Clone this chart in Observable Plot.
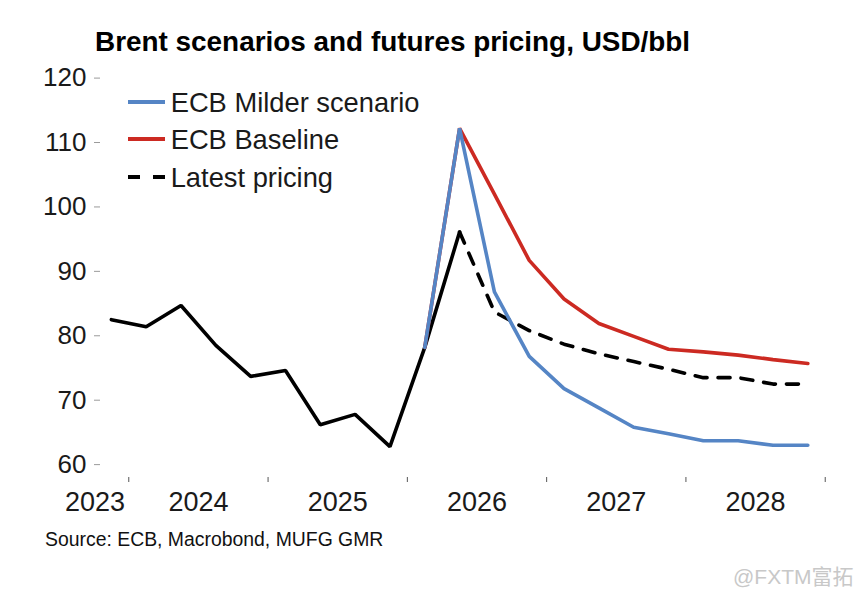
<!DOCTYPE html>
<html>
<head>
<meta charset="utf-8">
<script src="https://cdn.jsdelivr.net/npm/d3@7"></script>
<script src="https://cdn.jsdelivr.net/npm/@observablehq/plot@0.6"></script>
<style>
  html, body { margin: 0; padding: 0; background: #fff; }
  #wrap { position: relative; width: 864px; height: 616px; overflow: hidden;
          font-family: Arial, "Liberation Sans", Helvetica, sans-serif; color: #1a1a1a; }
  #title { position: absolute; left: 95px; top: 28px; font-size: 27.9px; line-height: 27px;
           font-weight: bold; color: #000; white-space: nowrap; }
  #chart { position: absolute; left: 0; top: 62px; }
  .leg { position: absolute; left: 128px; height: 27px; width: 400px; }
  .leg svg { position: absolute; left: 0; top: 0; }
  .leg span { position: absolute; left: 42.7px; top: 0; font-size: 27.3px; line-height: 27px; white-space: nowrap; }
  #source { position: absolute; left: 45px; top: 530px; font-size: 19.4px; line-height: 19px; color: #111; white-space: nowrap; }
  #mark { position: absolute; left: 733px; top: 567px; font-size: 21px; line-height: 20px; color: #c8c8c8;
          font-family: Arial, "Liberation Sans", "Noto Sans CJK SC", sans-serif; white-space: nowrap; }
</style>
</head>
<body>
<div id="wrap">
  <div id="title">Brent scenarios and futures pricing, USD/bbl</div>
  <div id="chart"></div>
  <div id="legend"></div>
  <div id="source">Source: ECB, Macrobond, MUFG GMR</div>
  <div id="mark">@FXTM富拓</div>
</div>
<script>
// ---- data ----
const quarters = ["2023Q4",
  "2024Q1","2024Q2","2024Q3","2024Q4",
  "2025Q1","2025Q2","2025Q3","2025Q4",
  "2026Q1","2026Q2","2026Q3","2026Q4",
  "2027Q1","2027Q2","2027Q3","2027Q4",
  "2028Q1","2028Q2","2028Q3","2028Q4"];
// history (black solid), 2023Q4 .. 2026Q2
const history = [82.5, 81.4, 84.7, 78.5, 73.7, 74.6, 66.2, 67.8, 62.8, 78.2, 96.1];
// ECB Milder scenario, 2026Q1 .. 2028Q4
const milder = [78.2, 112.2, 86.8, 76.8, 71.8, 68.8, 65.8, 64.8, 63.7, 63.7, 63.0, 63.0];
// ECB Baseline, 2026Q1 .. 2028Q4
const baseline = [78.2, 112.2, 102.0, 91.7, 85.7, 81.9, 79.9, 77.9, 77.5, 77.0, 76.3, 75.7];
// Latest pricing (dashed), 2026Q2 .. 2028Q4
const pricing = [96.1, 83.7, 80.8, 78.7, 77.2, 76.0, 74.8, 73.5, 73.5, 72.5, 72.5];

const yTicks = [60, 70, 80, 90, 100, 110, 120];
const yearTicks = [2024, 2025, 2026, 2027, 2028, 2029];
const yearLabels = ["2023", "2024", "2025", "2026", "2027", "2028"];

const legendItems = [
  {name: "ECB Milder scenario", color: "#5585c5", dash: null},
  {name: "ECB Baseline", color: "#cc2a22", dash: null},
  {name: "Latest pricing", color: "#000000", dash: "12,13"}
];

// ---- build ----
const xOf = q => +q.slice(0, 4) + (+q[5] - 0.5) / 4;
const series = (vals, start) => vals.map((v, i) => ({x: xOf(quarters[start + i]), v}));

const histData = series(history, 0);
const milderData = series(milder, 9);
const baseData = series(baseline, 9);
const priceData = series(pricing, 10);

// label centres: first year sits in its visible part, later years mid-year
const labelPos = yearLabels.map((y, i) => i === 0 ? +y + 0.758 : +y + 0.5);

const chart = Plot.plot({
  width: 864,
  height: 465,
  marginTop: 15.6,
  marginLeft: 100,
  marginRight: 35.1,
  marginBottom: 50,
  style: {fontFamily: 'Arial, "Liberation Sans", Helvetica, sans-serif', background: "#fff", color: "#1a1a1a"},
  x: {domain: [2023.797, 2029.03], label: null},
  y: {domain: [58, 120], label: null},
  marks: [
    Plot.axisY({ticks: yTicks, tickSize: 6, tickPadding: 8, stroke: "#9a9a9a", fill: "#1a1a1a",
                fontSize: 26, tickFormat: d => String(d), label: null}),
    Plot.axisX({ticks: yearTicks, tickSize: 5, stroke: "#555", tickFormat: () => "", label: null}),
    Plot.axisX({ticks: labelPos, tickSize: 0, tickPadding: 14, fill: "#1a1a1a", fontSize: 27,
                tickFormat: d => String(Math.floor(d)), label: null}),
    Plot.line(histData, {x: "x", y: "v", stroke: "#000", strokeWidth: 3.6, strokeLinejoin: "miter"}),
    Plot.line(priceData, {x: "x", y: "v", stroke: "#000", strokeWidth: 3.6, strokeDasharray: "12,11",
                          strokeLinejoin: "miter"}),
    Plot.line(baseData, {x: "x", y: "v", stroke: legendItems[1].color, strokeWidth: 3.6, strokeLinejoin: "miter"}),
    Plot.line(milderData, {x: "x", y: "v", stroke: legendItems[0].color, strokeWidth: 3.6, strokeLinejoin: "miter"})
  ]
});
document.getElementById("chart").appendChild(chart);

// ---- legend (overlay) ----
const leg = document.getElementById("legend");
legendItems.forEach((it, i) => {
  const row = document.createElement("div");
  row.className = "leg";
  row.style.top = (88.6 + 37.5 * i) + "px";
  row.innerHTML =
    `<svg width="38" height="27"><line x1="0" x2="37" y1="13.1" y2="13.1" stroke="${it.color}" stroke-width="4"` +
    (it.dash ? ` stroke-dasharray="${it.dash}"` : "") + `/></svg><span>${it.name}</span>`;
  leg.appendChild(row);
});
</script>
</body>
</html>
